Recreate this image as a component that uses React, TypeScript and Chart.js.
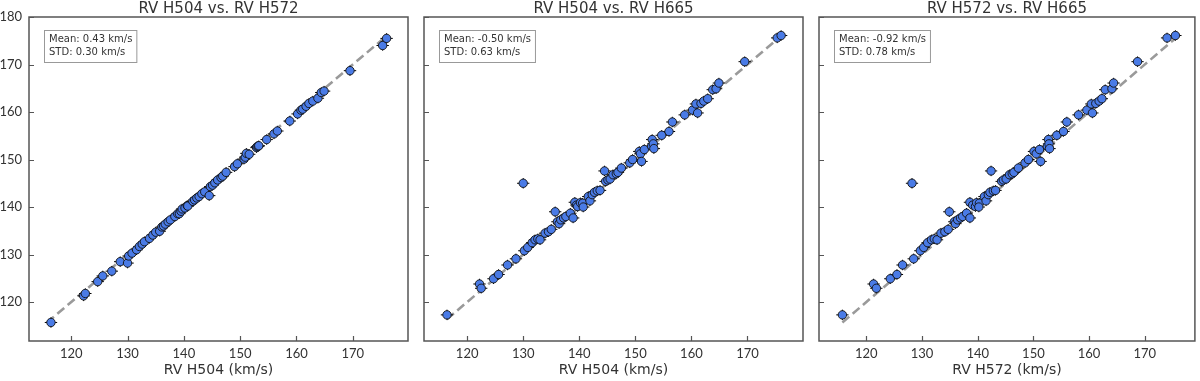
import React, { useEffect, useRef } from "react";
import { Chart, registerables } from "chart.js";
Chart.register(...registerables);

// Radial velocities (km/s) for each star in three windows
const RV_H504 = [116.4, 122.2, 122.5, 124.7, 125.6, 127.2, 128.7, 130.0, 130.2, 130.8, 131.6, 132.1, 132.6, 133.0, 133.9, 134.5, 135.0, 135.7, 136.1, 136.4, 136.7, 137.2, 137.6, 138.4, 138.9, 139.2, 139.5, 139.7, 140.2, 140.6, 140.7, 141.6, 141.9, 142.3, 142.7, 143.2, 143.7, 144.5, 144.7, 145.1, 145.5, 146.0, 146.6, 146.9, 147.5, 149.0, 149.5, 150.7, 150.9, 151.1, 151.6, 152.9, 153.0, 153.2, 153.3, 154.7, 156.0, 156.6, 158.8, 160.2, 160.8, 161.1, 161.7, 162.2, 162.9, 163.8, 164.4, 164.9, 169.5, 175.3, 176.0];
const RV_H572 = [115.7, 121.3, 121.8, 124.3, 125.5, 126.5, 128.5, 128.2, 129.7, 130.3, 131.0, 131.7, 132.2, 132.7, 133.4, 134.1, 134.7, 134.9, 135.8, 136.0, 136.4, 136.9, 137.3, 138.0, 138.6, 138.6, 139.1, 139.6, 139.8, 140.3, 140.2, 141.2, 141.5, 141.9, 142.2, 142.8, 143.2, 142.4, 144.3, 144.6, 145.1, 145.7, 146.2, 146.5, 147.3, 148.5, 149.1, 150.1, 150.5, 151.3, 151.1, 152.5, 152.7, 152.8, 152.9, 154.2, 155.4, 156.0, 158.1, 159.6, 160.4, 160.6, 161.2, 161.8, 162.3, 162.9, 164.1, 164.4, 168.7, 174.0, 175.5];
const RV_H665 = [117.3, 123.8, 122.9, 124.9, 125.8, 127.8, 129.1, 145.0, 130.8, 131.5, 132.5, 133.1, 133.3, 133.1, 134.5, 134.8, 135.3, 139.0, 136.9, 136.5, 137.3, 137.7, 138.0, 138.7, 137.7, 141.0, 140.4, 140.1, 140.9, 140.8, 140.0, 142.2, 141.3, 142.6, 143.1, 143.4, 143.5, 147.6, 145.4, 145.7, 145.9, 146.8, 147.0, 147.3, 148.2, 149.3, 150.0, 151.7, 151.2, 149.6, 152.1, 152.8, 154.2, 153.3, 152.3, 155.1, 155.9, 157.9, 159.4, 160.4, 161.7, 159.8, 161.8, 162.3, 162.8, 164.7, 164.9, 166.1, 170.6, 175.6, 176.1];
const RV_ERR = 1.1;

const PANEL_TITLES = ["RV H504 vs. RV H572", "RV H504 vs. RV H665", "RV H572 vs. RV H665"];
const X_LABELS = ["RV H504 (km/s)", "RV H504 (km/s)", "RV H572 (km/s)"];
const MEAN_TEXT = ["Mean: 0.43 km/s", "Mean: -0.50 km/s", "Mean: -0.92 km/s"];
const STD_TEXT = ["STD: 0.30 km/s", "STD: 0.63 km/s", "STD: 0.78 km/s"];
const PANEL_X = [RV_H504, RV_H504, RV_H572];
const PANEL_Y = [RV_H572, RV_H665, RV_H665];

const X_MIN = [112.5, 112.3, 111.5];
const X_MAX = [179.8, 179.9, 179.0];
const Y_MIN = 111.8;
const Y_MAX = 180;

const PLOT_LEFT = [29, 424, 819];
const PLOT_RIGHT = [408, 803, 1197];
const PLOT_TOP = 17;
const PLOT_BOTTOM = 341;
const W = 1200;
const H = 381;

const TEXT = "#333";
const FRAME = "#555";
const SANS = '"DejaVu Sans", sans-serif';

function makeChart(canvas: HTMLCanvasElement, p: number) {
  const xs = PANEL_X[p];
  const ys = PANEL_Y[p];
  const pts = xs.map((x, i) => ({ x, y: ys[i] }));
  const lo = Math.min(...xs, ...ys);
  const hi = Math.max(...xs, ...ys);

  const panelPlugin = {
    id: "panelDeco" + p,
    beforeDatasetDraw(chart: any, args: any) {
      if (args.index !== 0) return;
      const { ctx, chartArea } = chart;
      const xS = chart.scales.x;
      const yS = chart.scales.y;
      ctx.save();
      ctx.beginPath();
      ctx.rect(chartArea.left, chartArea.top, chartArea.right - chartArea.left, chartArea.bottom - chartArea.top);
      ctx.clip();
      ctx.strokeStyle = "#000";
      ctx.lineWidth = 1;
      ctx.beginPath();
      for (let i = 0; i < xs.length; i++) {
        const px = xS.getPixelForValue(xs[i]);
        const py = yS.getPixelForValue(ys[i]);
        const x0 = xS.getPixelForValue(xs[i] - RV_ERR);
        const x1 = xS.getPixelForValue(xs[i] + RV_ERR);
        const y0 = yS.getPixelForValue(ys[i] - RV_ERR);
        const y1 = yS.getPixelForValue(ys[i] + RV_ERR);
        ctx.moveTo(x0, py);
        ctx.lineTo(x1, py);
        ctx.moveTo(px, y0);
        ctx.lineTo(px, y1);
      }
      ctx.stroke();
      ctx.restore();
    },
    afterDatasetsDraw(chart: any) {
      const { ctx, chartArea } = chart;
      const { left, right, top, bottom } = chartArea;
      const xS = chart.scales.x;
      const yS = chart.scales.y;
      ctx.save();
      ctx.strokeStyle = FRAME;
      ctx.lineWidth = 1.5;
      ctx.strokeRect(left, top, right - left, bottom - top);
      ctx.lineWidth = 1.2;
      ctx.beginPath();
      for (const t of xS.ticks) {
        const px = Math.round(xS.getPixelForValue(t.value)) + 0.5;
        ctx.moveTo(px, bottom);
        ctx.lineTo(px, bottom - 5);
      }
      for (const t of yS.ticks) {
        const py = Math.round(yS.getPixelForValue(t.value)) + 0.5;
        ctx.moveTo(left, py);
        ctx.lineTo(left + 5, py);
      }
      ctx.stroke();

      // title
      ctx.fillStyle = TEXT;
      ctx.font = "15px " + SANS;
      ctx.textAlign = "center";
      ctx.textBaseline = "alphabetic";
      ctx.fillText(PANEL_TITLES[p], (left + right) / 2, 12.5);

      // stats box
      ctx.font = "10px " + SANS;
      const w = Math.max(ctx.measureText(MEAN_TEXT[p]).width, ctx.measureText(STD_TEXT[p]).width) + 9;
      const bx = left + 15.5;
      const by = top + 13.5;
      ctx.fillStyle = "#fff";
      ctx.fillRect(bx, by, w, 32);
      ctx.strokeStyle = "#999";
      ctx.lineWidth = 1;
      ctx.strokeRect(bx, by, w, 32);
      ctx.fillStyle = TEXT;
      ctx.textAlign = "left";
      ctx.textBaseline = "middle";
      ctx.fillText(MEAN_TEXT[p], bx + 4.5, by + 9);
      ctx.fillText(STD_TEXT[p], bx + 4.5, by + 22);
      ctx.restore();
    },
  };

  const yWidth = p === 0 ? PLOT_LEFT[0] : 0;
  return new Chart(canvas, {
    type: "scatter",
    data: {
      datasets: [
        {
          data: pts,
          order: 1,
          backgroundColor: "#4a7be6",
          borderColor: "#111",
          borderWidth: 0.9,
          pointRadius: 4.2,
          pointHoverRadius: 4.2,
        },
        {
          data: [
            { x: lo, y: lo },
            { x: hi, y: hi },
          ],
          order: 2,
          showLine: true,
          borderColor: "#9a9a9a",
          borderWidth: 2.6,
          borderDash: [9, 4.5],
          pointRadius: 0,
          fill: false,
        },
      ],
    },
    options: {
      responsive: false,
      animation: false,
      events: [],
      layout: {
        padding: {
          left: PLOT_LEFT[p] - yWidth,
          right: W - PLOT_RIGHT[p],
          top: PLOT_TOP,
          bottom: 0,
        },
      },
      plugins: {
        legend: { display: false },
        tooltip: { enabled: false },
        title: { display: false },
      },
      scales: {
        x: {
          type: "linear",
          min: X_MIN[p],
          max: X_MAX[p],
          grid: { display: false, drawTicks: false, tickLength: 0 },
          border: { display: false },
          ticks: {
            stepSize: 10,
            includeBounds: false,
            padding: 5,
            color: TEXT,
            font: { family: "Lato, sans-serif", size: 13 },
          },
          title: {
            display: true,
            text: X_LABELS[p],
            color: TEXT,
            font: { family: SANS, size: 14 },
            padding: { top: 0, bottom: 2 },
          },
          afterFit(scale: any) {
            scale.height = H - PLOT_BOTTOM;
          },
        },
        y: {
          type: "linear",
          min: Y_MIN,
          max: Y_MAX,
          grid: { display: false, drawTicks: false, tickLength: 0 },
          border: { display: false },
          ticks: {
            display: p === 0,
            stepSize: 10,
            includeBounds: false,
            padding: 7,
            color: TEXT,
            font: { family: "Lato, sans-serif", size: 13 },
          },
          afterFit(scale: any) {
            scale.width = yWidth;
          },
        },
      },
    },
    plugins: [panelPlugin],
  } as any);
}

export default function App() {
  const r0 = useRef<HTMLCanvasElement>(null);
  const r1 = useRef<HTMLCanvasElement>(null);
  const r2 = useRef<HTMLCanvasElement>(null);

  useEffect(() => {
    document.body.style.margin = "0";
    const refs = [r0, r1, r2];
    const charts = refs.map((r, i) => makeChart(r.current as HTMLCanvasElement, i));
    return () => charts.forEach((c) => c.destroy());
  }, []);

  const cs: React.CSSProperties = { position: "absolute", left: 0, top: 0, width: W, height: H, pointerEvents: "none" };
  return (
    <div style={{ position: "absolute", left: 0, top: 0, width: W, height: H, background: "#fff", overflow: "hidden" }}>
      <canvas ref={r0} width={W} height={H} style={cs} />
      <canvas ref={r1} width={W} height={H} style={cs} />
      <canvas ref={r2} width={W} height={H} style={cs} />
    </div>
  );
}
